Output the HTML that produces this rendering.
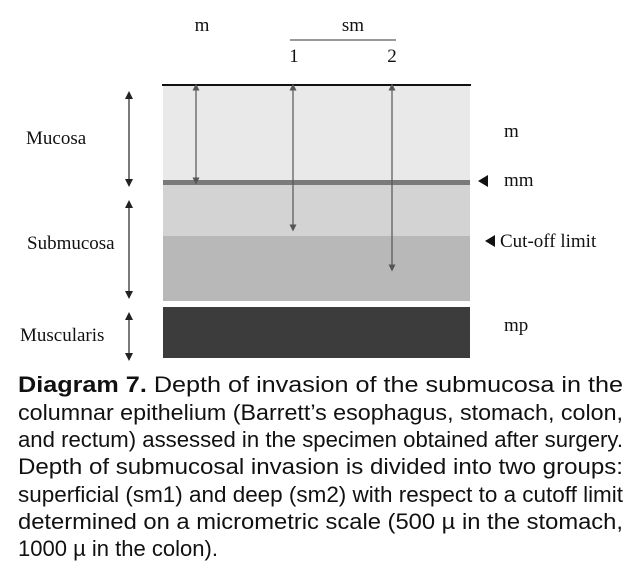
<!DOCTYPE html>
<html><head><meta charset="utf-8"><style>
html,body{margin:0;padding:0;background:#fff;}
svg{display:block;}
.s{font-family:"Liberation Serif",serif;font-size:19px;fill:#111;}
.c{font-family:"Liberation Sans",sans-serif;font-size:22px;fill:#111;}
</style></head><body>
<svg width="641" height="571" viewBox="0 0 641 571">
<defs>
<marker id="ah" markerWidth="8" markerHeight="8" refX="4" refY="4" orient="auto-start-reverse" markerUnits="userSpaceOnUse">
<path d="M0,0 L8,4 L0,8 z" fill="#222"/></marker>
<marker id="ag" markerWidth="7" markerHeight="7" refX="3.5" refY="3.5" orient="auto-start-reverse" markerUnits="userSpaceOnUse">
<path d="M0,0 L7,3.5 L0,7 z" fill="#555"/></marker>
</defs>
<g>
<rect x="163" y="85" width="307" height="96" fill="#e9e9e9"/>
<rect x="163" y="180" width="307" height="5" fill="#7a7a7a"/>
<rect x="163" y="185" width="307" height="51" fill="#d3d3d3"/>
<rect x="163" y="236" width="307" height="65" fill="#b8b8b8"/>
<rect x="163" y="307" width="307" height="51" fill="#3c3c3c"/>
<line x1="162" y1="85" x2="471" y2="85" stroke="#111" stroke-width="2"/>
</g>
<g stroke="#555" stroke-width="1.2">
<line x1="196" y1="87" x2="196" y2="181" marker-start="url(#ag)" marker-end="url(#ag)"/>
<line x1="293" y1="87" x2="293" y2="228" marker-start="url(#ag)" marker-end="url(#ag)"/>
<line x1="392" y1="87" x2="392" y2="268" marker-start="url(#ag)" marker-end="url(#ag)"/>
</g>
<g stroke="#222" stroke-width="1.2">
<line x1="129" y1="95" x2="129" y2="183" marker-start="url(#ah)" marker-end="url(#ah)"/>
<line x1="129" y1="204" x2="129" y2="295" marker-start="url(#ah)" marker-end="url(#ah)"/>
<line x1="129" y1="316" x2="129" y2="357" marker-start="url(#ah)" marker-end="url(#ah)"/>
</g>
<text class="s" x="202" y="31" text-anchor="middle">m</text>
<text class="s" x="353" y="31" text-anchor="middle">sm</text>
<line x1="290" y1="40" x2="396" y2="40" stroke="#333" stroke-width="1"/>
<text class="s" x="294" y="62" text-anchor="middle">1</text>
<text class="s" x="392" y="62" text-anchor="middle">2</text>
<text class="s" x="26" y="144">Mucosa</text>
<text class="s" x="27" y="249">Submucosa</text>
<text class="s" x="20" y="341">Muscularis</text>
<text class="s" x="504" y="137">m</text>
<path d="M478,181 L488,175 L488,187 z" fill="#111"/>
<text class="s" x="504" y="186">mm</text>
<path d="M485,241 L495,235 L495,247 z" fill="#111"/>
<text class="s" x="500" y="247">Cut-off limit</text>
<text class="s" x="504" y="331">mp</text>
<g>
<text class="c" x="18" y="392" textLength="605" lengthAdjust="spacingAndGlyphs"><tspan font-weight="bold">Diagram 7.</tspan> Depth of invasion of the submucosa in the</text>
<text class="c" x="18" y="420" textLength="605" lengthAdjust="spacingAndGlyphs">columnar epithelium (Barrett’s esophagus, stomach, colon,</text>
<text class="c" x="18" y="447" textLength="605" lengthAdjust="spacingAndGlyphs">and rectum) assessed in the specimen obtained after surgery.</text>
<text class="c" x="18" y="474" textLength="605" lengthAdjust="spacingAndGlyphs">Depth of submucosal invasion is divided into two groups:</text>
<text class="c" x="18" y="502" textLength="605" lengthAdjust="spacingAndGlyphs">superficial (sm1) and deep (sm2) with respect to a cutoff limit</text>
<text class="c" x="18" y="529" textLength="605" lengthAdjust="spacingAndGlyphs">determined on a micrometric scale (500 µ in the stomach,</text>
<text class="c" x="18" y="556" textLength="200" lengthAdjust="spacingAndGlyphs">1000 µ in the colon).</text>
</g>
</svg>
</body></html>
